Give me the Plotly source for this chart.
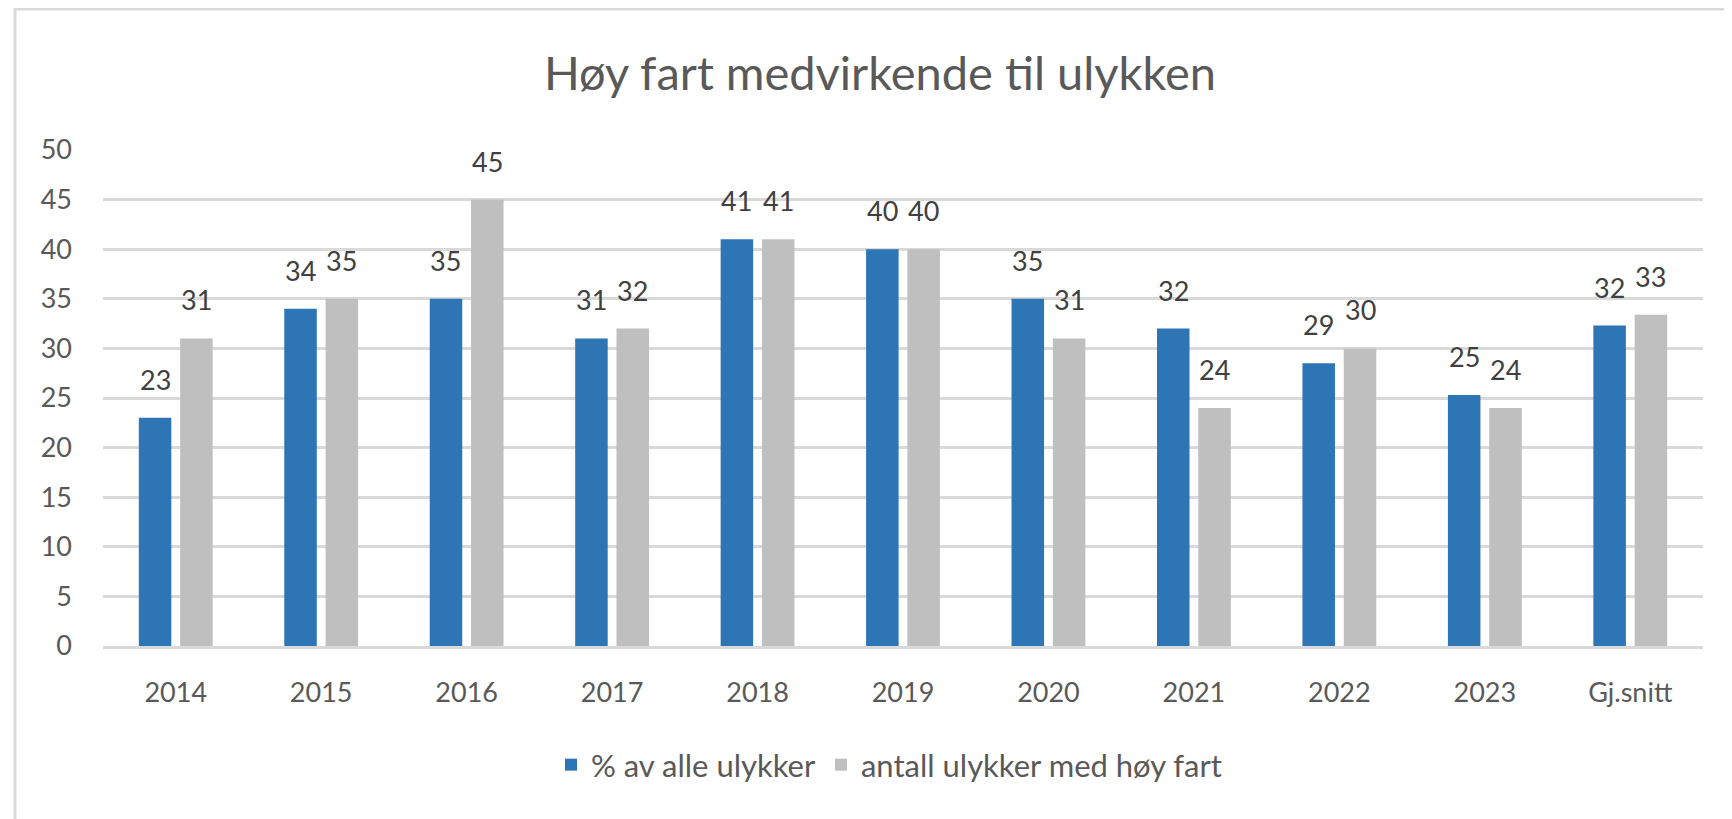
import math
import plotly.graph_objects as go

categories = ["2014", "2015", "2016", "2017", "2018", "2019", "2020", "2021", "2022", "2023", "Gj.snitt"]
pct_all = [23, 34, 35, 31, 41, 40, 35, 32, 28.5, 25.3, 32.3]
count_high_speed = [31, 35, 45, 32, 41, 40, 31, 24, 30, 24, 33.4]
y_ticks = [0, 5, 10, 15, 20, 25, 30, 35, 40, 45, 50]

# the page body has an 8px margin: work in figure coordinates (page - 8)
W, H = 1724, 811
L, R, T, B = 95, 29, 142, 173
pw, ph = W - L - R, H - T - B

BARGAP, GROUPGAP = 0.432, 0.213
slot_px = pw / len(categories) * (1 - BARGAP) / 2


def px(x):
    return (x - L) / pw


def py(y):
    return (H - B - y) / ph


FONT = "Lato"
TXT = "#595959"
LBL = "#404040"

fig = go.Figure()
fig.add_trace(go.Bar(
    x=categories, y=pct_all, name="% av alle ulykker",
    marker=dict(color="#2E75B6", line=dict(width=0)),
))
fig.add_trace(go.Bar(
    x=categories, y=count_high_speed, name="antall ulykker med høy fart",
    marker=dict(color="#BFBFBF", line=dict(width=0)),
))

# data labels (category index on the category axis)
for series, shift in ((pct_all, -slot_px / 2), (count_high_speed, slot_px / 2)):
    for i, v in enumerate(series):
        fig.add_annotation(
            x=i, y=v, xref="x", yref="y", text=str(math.floor(v + 0.5)),
            showarrow=False, xanchor="center", yanchor="bottom",
            xshift=shift, yshift=20,
            font=dict(family=FONT, size=27, color=LBL),
        )

fig.update_layout(
    width=W, height=H,
    margin=dict(l=L, r=R, t=T, b=B, autoexpand=False),
    paper_bgcolor="white", plot_bgcolor="white",
    barmode="group", bargap=BARGAP, bargroupgap=GROUPGAP,
    title=dict(text="Høy fart medvirkende til ulykken", xref="container", x=872 / W,
               xanchor="center", y=1 - 66 / H, yanchor="middle",
               font=dict(family=FONT, size=47, color=TXT)),
    font=dict(family=FONT, color=TXT),
    showlegend=True,
    legend=dict(orientation="h", x=px(881), xanchor="center", y=py(757), yanchor="middle",
                font=dict(family=FONT, size=31, color=TXT),
                traceorder="normal"),
)
fig.update_xaxes(
    type="category", range=[-0.5, len(categories) - 0.5],
    showgrid=False, showline=True, linecolor="#D9D9D9", linewidth=2.5,
    ticks="", tickfont=dict(family=FONT, size=27, color=TXT), ticklabelstandoff=21,
)
fig.update_yaxes(
    range=[0, 50], tickvals=y_ticks, showgrid=True, gridcolor="#D9D9D9", gridwidth=2.5,
    zeroline=False, showline=False, ticks="",
    tickfont=dict(family=FONT, size=27, color=TXT), ticklabelstandoff=30,
)

border = "#D9D9D9"
fig.add_shape(type="line", xref="paper", yref="paper",
              x0=px(7), x1=px(7), y0=py(0), y1=py(H + 5),
              line=dict(color=border, width=3))
fig.add_shape(type="line", xref="paper", yref="paper",
              x0=px(7), x1=px(W + 5), y0=py(1), y1=py(1),
              line=dict(color=border, width=3))

fig.write_html("out.html")
